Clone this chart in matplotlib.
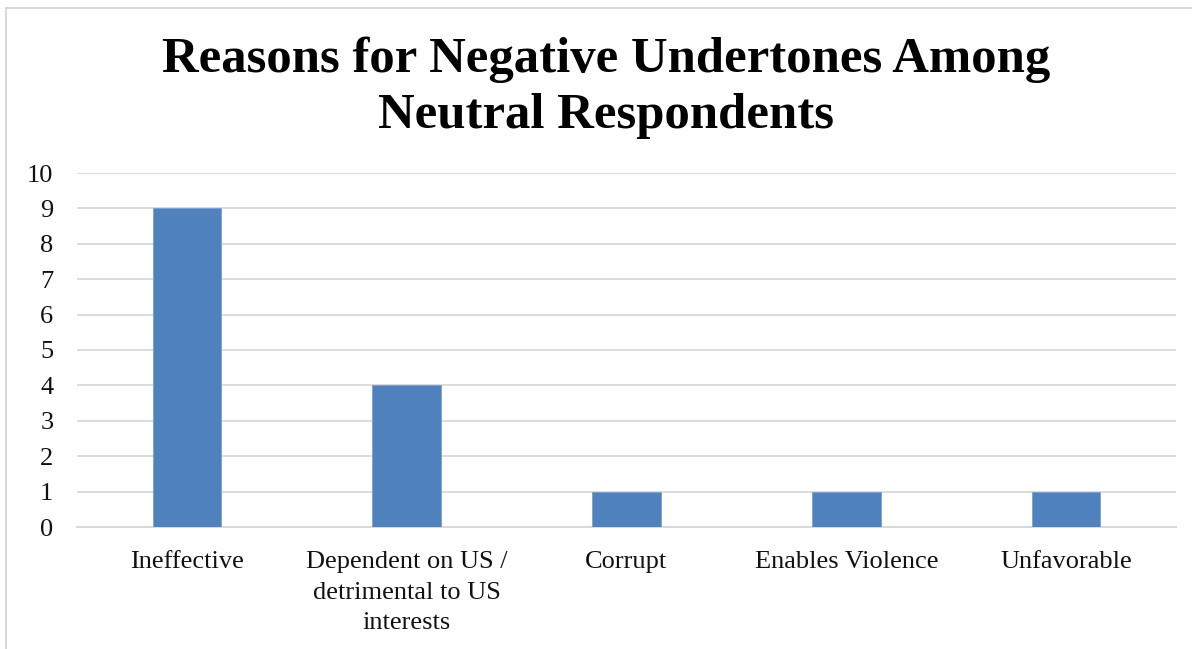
import matplotlib.pyplot as plt
from matplotlib.lines import Line2D

# survey counts per reason
reasons = ['Ineffective',
           'Dependent on US /\ndetrimental to US\ninterests',
           'Corrupt',
           'Enables Violence',
           'Unfavorable']
counts = [9, 4, 1, 1, 1]
yticks = list(range(0, 11))

W, H = 1192, 649
fig = plt.figure(figsize=(W / 100, H / 100), dpi=100)
ax = fig.add_axes([77 / W, 1 - 527 / H, (1176 - 77) / W, (527 - 173) / H])

x = list(range(len(reasons)))
ax.bar(x, counts, width=0.313, color='#4f81bd', edgecolor='#7a9fd0',
       linewidth=0.6, zorder=3)

ax.set_xlim(-0.5, len(reasons) - 0.5)
ax.set_ylim(0, 10)
ax.set_yticks(yticks)
ax.set_xticks(x)
ax.set_xticklabels(reasons, linespacing=1.5)
ax.grid(axis='y', color='#d9d9d9', linewidth=1.3, zorder=0)
for side in ['top', 'right', 'left']:
    ax.spines[side].set_visible(False)
ax.spines['bottom'].set_color('#d9d9d9')
ax.spines['bottom'].set_linewidth(1.5)
ax.tick_params(length=0, labelsize=19, labelcolor='#111111')
ax.tick_params(axis='y', pad=17)
ax.tick_params(axis='x', pad=17.5)
for lab in ax.get_xticklabels() + ax.get_yticklabels():
    lab.set_family('Liberation Serif')

# title, two lines
fig.text(606 / W, 1 - 72 / H, 'Reasons for Negative Undertones Among',
         ha='center', va='baseline', fontsize=36.5, fontweight='bold',
         family='Liberation Serif')
fig.text(606 / W, 1 - 128 / H, 'Neutral Respondents',
         ha='center', va='baseline', fontsize=36.5, fontweight='bold',
         family='Liberation Serif')

# chart frame (left and top edges)
fig.add_artist(Line2D([5.5 / W, 5.5 / W], [0, 1 - 7.5 / H],
                      transform=fig.transFigure, color='#d9d9d9', lw=1.5))
fig.add_artist(Line2D([5.5 / W, 1], [1 - 7.5 / H, 1 - 7.5 / H],
                      transform=fig.transFigure, color='#d9d9d9', lw=1.5))

fig.savefig('out.png', dpi=100)
